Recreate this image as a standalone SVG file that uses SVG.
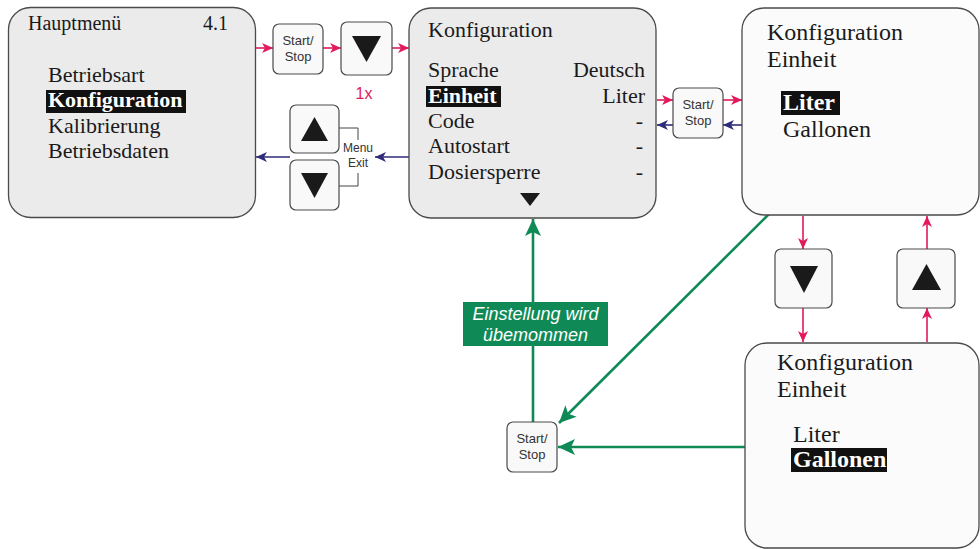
<svg xmlns="http://www.w3.org/2000/svg" width="980" height="549" viewBox="0 0 980 549">
<style>
.screen{fill:#ebebeb;stroke:#4a4a4a;stroke-width:1.3}
.screenw{fill:#fbfbfb;stroke:#4a4a4a;stroke-width:1.3}
.btn{fill:#f9f9f9;stroke:#4a4a4a;stroke-width:1.2}
.tri{fill:#1a1a1a}
.pink{stroke:#e3195a;stroke-width:1.6;fill:none;marker-end:url(#mp)}
.blue{stroke:#2e2b78;stroke-width:1.6;fill:none;marker-end:url(#mb)}
.green{stroke:#0f8a57;stroke-width:2.6;fill:none;marker-end:url(#mg)}
</style>
<defs>
<marker id="mp" markerUnits="userSpaceOnUse" markerWidth="12" markerHeight="10" refX="11" refY="5" orient="auto"><path d="M0,0 L11,5 L0,10 L3,5 Z" fill="#e3195a"/></marker>
<marker id="mb" markerUnits="userSpaceOnUse" markerWidth="12" markerHeight="10" refX="11" refY="5" orient="auto"><path d="M0,0 L11,5 L0,10 L3,5 Z" fill="#2e2b78"/></marker>
<marker id="mg" markerUnits="userSpaceOnUse" markerWidth="18" markerHeight="16" refX="17" refY="8" orient="auto"><path d="M0,0 L17,8 L0,16 L4,8 Z" fill="#0f8a57"/></marker>
</defs>
<rect width="980" height="549" fill="#fff"/>

<g id="connectors">
<path class="pink" d="M256 48 H273"/>
<path class="pink" d="M323 48 H341"/>
<path class="pink" d="M392 48 H409"/>
<path class="pink" d="M657 100 H673"/>
<path class="pink" d="M723 100 H742"/>
<path class="blue" d="M742 125 H723"/>
<path class="blue" d="M673 125 H657"/>
<path class="blue" d="M409 157 H375"/>
<path class="blue" d="M290 157 H256"/>
<path class="pink" d="M803 216 V249"/>
<path class="pink" d="M803 308 V342"/>
<path class="pink" d="M927 249 V216"/>
<path class="pink" d="M927 342 V308"/>
<path class="green" d="M533 422 V219"/>
<path class="green" d="M769 214 L559 423"/>
<path class="green" d="M745 447 H558"/>
<path d="M339 128 H358 V140 M358 173 V186 H339" fill="none" stroke="#444" stroke-width="1"/>
</g>

<g id="main-menu">
<rect class="screen" x="8.5" y="7.5" width="247" height="210" rx="22"/>
<text x="28" y="30" font-family="Liberation Serif, serif" font-size="20" fill="#1a1a1a">Hauptmenü</text>
<text x="203" y="30" font-family="Liberation Serif, serif" font-size="20" fill="#1a1a1a">4.1</text>
<text x="48" y="82" font-family="Liberation Serif, serif" font-size="22" fill="#1a1a1a">Betriebsart</text>
<rect x="46" y="90" width="140" height="23" fill="#111"/>
<text x="48" y="107" font-family="Liberation Serif, serif" font-size="22" font-weight="bold" fill="#fff">Konfiguration</text>
<text x="48" y="133" font-family="Liberation Serif, serif" font-size="22" fill="#1a1a1a">Kalibrierung</text>
<text x="48" y="158" font-family="Liberation Serif, serif" font-size="22" fill="#1a1a1a">Betriebsdaten</text>
</g>

<g id="btn-start1">
<rect class="btn" x="273" y="24" width="50" height="50" rx="6"/>
<text x="298" y="45" font-family="Liberation Sans, sans-serif" font-size="13" fill="#333" text-anchor="middle">Start/</text>
<text x="298" y="61" font-family="Liberation Sans, sans-serif" font-size="13" fill="#333" text-anchor="middle">Stop</text>
</g>

<g id="btn-down1">
<rect class="btn" x="341" y="22" width="51" height="53" rx="6"/>
<path class="tri" d="M352 36 H381 L366.5 62 Z"/>
<text x="364" y="99" font-family="Liberation Sans, sans-serif" font-size="16" fill="#e3195a" text-anchor="middle">1x</text>
</g>

<g id="btn-menu-exit">
<rect class="btn" x="290" y="105" width="49" height="48" rx="6"/>
<path class="tri" d="M301 141 H328 L314.5 117 Z"/>
<rect class="btn" x="290" y="160" width="49" height="50" rx="6"/>
<path class="tri" d="M301 173 H328 L314.5 198 Z"/>
<text x="358" y="152" font-family="Liberation Sans, sans-serif" font-size="12" fill="#333" text-anchor="middle">Menu</text>
<text x="358" y="167" font-family="Liberation Sans, sans-serif" font-size="12" fill="#333" text-anchor="middle">Exit</text>
</g>

<g id="config-menu">
<rect class="screen" x="409" y="8" width="247" height="210" rx="22"/>
<text x="428" y="37" font-family="Liberation Serif, serif" font-size="22" fill="#1a1a1a">Konfiguration</text>
<text x="428" y="77" font-family="Liberation Serif, serif" font-size="22" fill="#1a1a1a">Sprache</text>
<text x="645" y="77" font-family="Liberation Serif, serif" font-size="22" fill="#1a1a1a" text-anchor="end">Deutsch</text>
<rect x="426" y="86" width="75" height="21" fill="#111"/>
<text x="428" y="103" font-family="Liberation Serif, serif" font-size="22" font-weight="bold" fill="#fff">Einheit</text>
<text x="645" y="103" font-family="Liberation Serif, serif" font-size="22" fill="#1a1a1a" text-anchor="end">Liter</text>
<text x="428" y="128" font-family="Liberation Serif, serif" font-size="22" fill="#1a1a1a">Code</text>
<text x="643" y="128" font-family="Liberation Serif, serif" font-size="22" fill="#1a1a1a" text-anchor="end">-</text>
<text x="428" y="153" font-family="Liberation Serif, serif" font-size="22" fill="#1a1a1a">Autostart</text>
<text x="643" y="153" font-family="Liberation Serif, serif" font-size="22" fill="#1a1a1a" text-anchor="end">-</text>
<text x="428" y="179" font-family="Liberation Serif, serif" font-size="22" fill="#1a1a1a">Dosiersperre</text>
<text x="643" y="179" font-family="Liberation Serif, serif" font-size="22" fill="#1a1a1a" text-anchor="end">-</text>
<path class="tri" d="M520 193 H540 L530 206 Z"/>
</g>

<g id="btn-start2">
<rect class="btn" x="673" y="88" width="50" height="50" rx="6"/>
<text x="698" y="109" font-family="Liberation Sans, sans-serif" font-size="13" fill="#333" text-anchor="middle">Start/</text>
<text x="698" y="125" font-family="Liberation Sans, sans-serif" font-size="13" fill="#333" text-anchor="middle">Stop</text>
</g>

<g id="unit-liter">
<rect class="screenw" x="742" y="8" width="237" height="207" rx="22"/>
<text x="767" y="40" font-family="Liberation Serif, serif" font-size="24" fill="#1a1a1a">Konfiguration</text>
<text x="767" y="67" font-family="Liberation Serif, serif" font-size="24" fill="#1a1a1a">Einheit</text>
<rect x="781" y="91" width="59" height="24" fill="#111"/>
<text x="783" y="110" font-family="Liberation Serif, serif" font-size="24" font-weight="bold" fill="#fff">Liter</text>
<text x="783" y="137" font-family="Liberation Serif, serif" font-size="24" fill="#1a1a1a">Gallonen</text>
</g>

<g id="btn-down2">
<rect class="btn" x="775" y="249" width="57" height="59" rx="6"/>
<path class="tri" d="M790 266 H818 L804 293 Z"/>
</g>

<g id="btn-up2">
<rect class="btn" x="897" y="249" width="58" height="59" rx="6"/>
<path class="tri" d="M912 290 H941 L926.5 264 Z"/>
</g>

<g id="unit-gallonen">
<rect class="screenw" x="745" y="343" width="234" height="205" rx="22"/>
<text x="777" y="370" font-family="Liberation Serif, serif" font-size="24" fill="#1a1a1a">Konfiguration</text>
<text x="777" y="397" font-family="Liberation Serif, serif" font-size="24" fill="#1a1a1a">Einheit</text>
<text x="793" y="442" font-family="Liberation Serif, serif" font-size="24" fill="#1a1a1a">Liter</text>
<rect x="791" y="448" width="96" height="24" fill="#111"/>
<text x="793" y="467" font-family="Liberation Serif, serif" font-size="24" font-weight="bold" fill="#fff">Gallonen</text>
</g>

<g id="btn-start3">
<rect class="btn" x="507" y="422" width="50" height="50" rx="6"/>
<text x="532" y="443" font-family="Liberation Sans, sans-serif" font-size="13" fill="#333" text-anchor="middle">Start/</text>
<text x="532" y="459" font-family="Liberation Sans, sans-serif" font-size="13" fill="#333" text-anchor="middle">Stop</text>
</g>

<g id="label-accept">
<rect x="463" y="302" width="145" height="44" fill="#0f8a57"/>
<text x="535.5" y="320" font-family="Liberation Sans, sans-serif" font-size="18" font-style="italic" fill="#fff" text-anchor="middle">Einstellung wird</text>
<text x="535.5" y="341" font-family="Liberation Sans, sans-serif" font-size="18" font-style="italic" fill="#fff" text-anchor="middle">übemommen</text>
</g>
</svg>
